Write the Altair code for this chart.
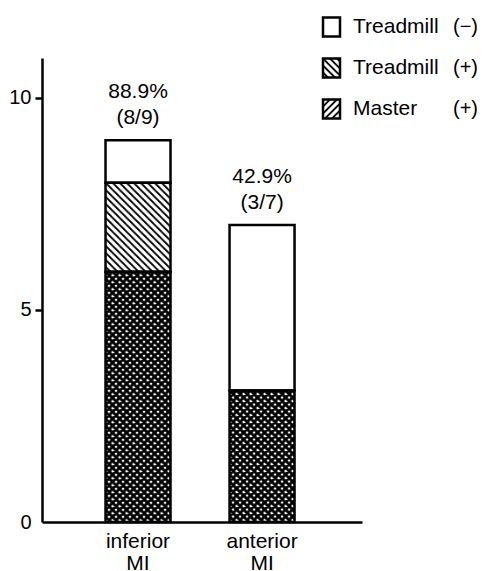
import base64
import altair as alt
import pandas as pd

# ---- data ----
categories = ["inferior MI", "anterior MI"]
series = ["Master (+)", "Treadmill (+)", "Treadmill (−)"]
master_pos = [5.9, 3.1]
treadmill_pos = [2.1, 0.0]
treadmill_neg = [1.0, 3.9]
pct_labels = ["88.9%", "42.9%"]
frac_labels = ["(8/9)", "(3/7)"]
legend_names = ["Treadmill", "Treadmill", "Master"]
legend_signs = ["(−)", "(+)", "(+)"]
legend_keys = ["Treadmill (−)", "Treadmill (+)", "Master (+)"]
y_ticks = [0, 5, 10]

FONT = "Liberation Sans"


def pattern_uri(path, sw, size=7):
    svg = (
        "<svg xmlns='http://www.w3.org/2000/svg' width='100%' height='100%'>"
        f"<defs><pattern id='p' patternUnits='userSpaceOnUse' width='{size}' height='{size}'>"
        f"<path d='{path}' stroke='black' stroke-width='{sw}' fill='none'/></pattern></defs>"
        "<rect width='100%' height='100%' fill='white'/>"
        "<rect width='100%' height='100%' fill='url(#p)'/></svg>"
    )
    return "data:image/svg+xml;base64," + base64.b64encode(svg.encode()).decode()


back = "M0,0L7,7M-3.5,3.5L3.5,10.5M3.5,-3.5L10.5,3.5M-7,0L0,7M7,0L14,7"
fwd = "M0,7L7,0M-3.5,3.5L3.5,-3.5M3.5,10.5L10.5,3.5M-7,7L0,0M7,7L14,0"
URL_CROSS = pattern_uri(back + fwd, 2.8)
URL_BACK = pattern_uri(back, 1.8)
URL_FWD = pattern_uri(fwd, 1.8)
URL_WHITE = pattern_uri("", 0)

bar_urls = {"Master (+)": URL_CROSS, "Treadmill (+)": URL_BACK, "Treadmill (−)": URL_WHITE}
legend_urls = {"Master (+)": URL_FWD, "Treadmill (+)": URL_BACK, "Treadmill (−)": URL_WHITE}

rows = []
for i, cat in enumerate(categories):
    base = 0.0
    for s, vals in zip(series, [master_pos, treadmill_pos, treadmill_neg]):
        v = vals[i]
        if v > 0:
            rows.append({"cat": cat, "series": s, "y0": base, "y1": base + v, "url": bar_urls[s]})
        base += v
seg = pd.DataFrame(rows)

tot = pd.DataFrame({
    "cat": categories,
    "total": [a + b + c for a, b, c in zip(master_pos, treadmill_pos, treadmill_neg)],
    "pct": pct_labels,
    "frac": frac_labels,
})

leg = pd.DataFrame({
    "key": legend_keys,
    "name": legend_names,
    "sign": legend_signs,
    "url": [legend_urls[k] for k in legend_keys],
})

x_enc = alt.X(
    "cat:N",
    sort=categories,
    scale=alt.Scale(domain=categories, paddingInner=0.476, paddingOuter=0.528, align=0.485),
    axis=alt.Axis(
        title=None, ticks=False, labelAngle=0, labelExpr="split(datum.value, ' ')",
        labelFont=FONT, labelFontSize=21, labelColor="black", labelPadding=8,
        labelLineHeight=22, labelBaseline="top",
        domainColor="black", domainWidth=2.5,
    ),
)
y_scale = alt.Scale(domain=[0, 10.94], nice=False, zero=True)
y_axis = alt.Axis(
    title=None, values=y_ticks, grid=False, labelFont=FONT, labelFontSize=20,
    labelColor="black", labelPadding=4, tickSize=7, tickWidth=2.5, tickColor="black",
    tickOpacity={"condition": {"test": "datum.value === 0", "value": 0}, "value": 1},
    domainColor="black", domainWidth=2.5,
)

fills = alt.Chart(seg).mark_image(aspect=False).encode(
    x=x_enc,
    y=alt.Y("y0:Q", scale=y_scale, axis=y_axis),
    y2="y1:Q",
    url="url:N",
)

outlines = alt.Chart(seg).mark_bar(fill="white", fillOpacity=0, stroke="black", strokeWidth=2.5).encode(
    x=x_enc,
    y=alt.Y("y0:Q", scale=y_scale, axis=y_axis),
    y2="y1:Q",
)

pct_text = alt.Chart(tot).mark_text(font=FONT, fontSize=21, color="black", dy=-42, baseline="alphabetic").encode(
    x=x_enc, y=alt.Y("total:Q", scale=y_scale, axis=y_axis), text="pct:N"
)
frac_text = alt.Chart(tot).mark_text(font=FONT, fontSize=21, color="black", dy=-16, baseline="alphabetic").encode(
    x=x_enc, y=alt.Y("total:Q", scale=y_scale, axis=y_axis), text="frac:N"
)

leg_y = alt.Y("key:N", sort=legend_keys,
              scale=alt.Scale(domain=legend_keys, range=[-40.5, 60.5], paddingInner=0.537, paddingOuter=0),
              axis=None)

leg_fill = alt.Chart(leg).mark_image(aspect=False).encode(
    x=alt.value(281), x2=alt.value(298), y=leg_y, url="url:N"
)
leg_box = alt.Chart(leg).mark_rect(fill="white", fillOpacity=0, stroke="black", strokeWidth=2.5).encode(
    x=alt.value(281), x2=alt.value(298), y=leg_y
)
leg_name = alt.Chart(leg).mark_text(font=FONT, fontSize=21, color="black", align="left", baseline="middle").encode(
    x=alt.value(311), y=leg_y, text="name:N"
)
leg_sign = alt.Chart(leg).mark_text(font=FONT, fontSize=20, color="black", align="left", baseline="middle").encode(
    x=alt.value(411), y=leg_y, text="sign:N"
)

bars = alt.layer(fills, outlines, pct_text, frac_text)
legend = alt.layer(leg_fill, leg_box, leg_name, leg_sign)

chart = alt.layer(bars, legend).resolve_scale(y="independent").properties(
    width=320,
    height=464,
    autosize=alt.AutoSizeParams(type="none"),
    padding={"left": 34, "top": 50, "right": 117, "bottom": 49},
    background="white",
).configure_view(stroke=None)

chart.save("out.html", embed_options={"renderer": "svg", "actions": False})
